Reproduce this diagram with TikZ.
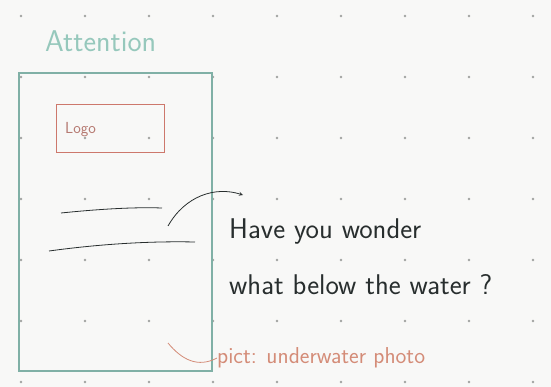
\documentclass[tikz,border=0pt]{standalone}
\usepackage{tikz}
\usetikzlibrary{arrows, positioning}
\definecolor{paper}{RGB}{248,248,247}
\definecolor{dotgray}{RGB}{160,162,160}
\definecolor{frame}{RGB}{128,176,166}
\definecolor{titel}{RGB}{150,200,188}
\definecolor{logored}{RGB}{205,120,108}
\definecolor{ink}{RGB}{40,46,46}
\definecolor{pictred}{RGB}{212,140,120}

\begin{document}
\begin{tikzpicture}[x=1pt, y=-1pt,
		>=stealth,   %Pfeilspitzen
		font=\sffamily,
		handtext/.style={anchor=west, inner sep=0pt, text=ink, font=\sffamily\fontsize{28.5}{32}\selectfont}]
		% Hintergrund
		\fill[paper] (0,0) rectangle (551,387);
		% Punktraster
		\foreach \x in {21,85,...,533}
			\foreach \y in {16,77,...,382} \fill[dotgray] (\x,\y) circle (1.3);
		% Titel
		\node[anchor=west, inner sep=0pt, text=titel, font=\sffamily\fontsize{30}{32}\selectfont] (titel) at (45,41) {Attention};
		% Bildschirm
		\node[draw=frame, line width=1.2pt, minimum width=193, minimum height=298, inner sep=0pt] (screen) at (115.5,222) {};
		\node[draw=logored, line width=1.2pt, minimum width=108, minimum height=48, inner sep=0pt, anchor=north west] (logo) at (56,104) {};
		\node[anchor=west, inner sep=0pt, text=logored!70!gray, font=\sffamily\fontsize{16}{18}\selectfont] (logotext) at ([xshift=9pt,yshift=-1pt]logo.west) {Logo};
		% Textzeilen
		\draw[ink, thick] (61,213) .. controls (100,209) and (135,207) .. (162,208);
		\draw[ink, thick] (49,251) .. controls (100,244) and (150,241) .. (195,242);
		% Frage
		\node[handtext] (frage1) at (229,232) {Have you wonder};
		\node[handtext] (frage2) at (229,285) {what below the water ?};
		\coordinate (pfeilstart) at (168,226);
		\coordinate (pfeilende) at (243,195);
		\draw[->, ink, thick] (pfeilstart) .. controls (185,196) and (215,186) .. (pfeilende);
		% Bildhinweis
		\node[anchor=west, inner sep=0pt, text=pictred, font=\sffamily\fontsize{23}{26}\selectfont] (pict) at (217,358) {pict: underwater photo};
		\coordinate (bildstart) at (168,343);
		\draw[pictred, thick] (bildstart) .. controls (182,360) and (198,368) .. (pict.west);
\end{tikzpicture}
\end{document}
